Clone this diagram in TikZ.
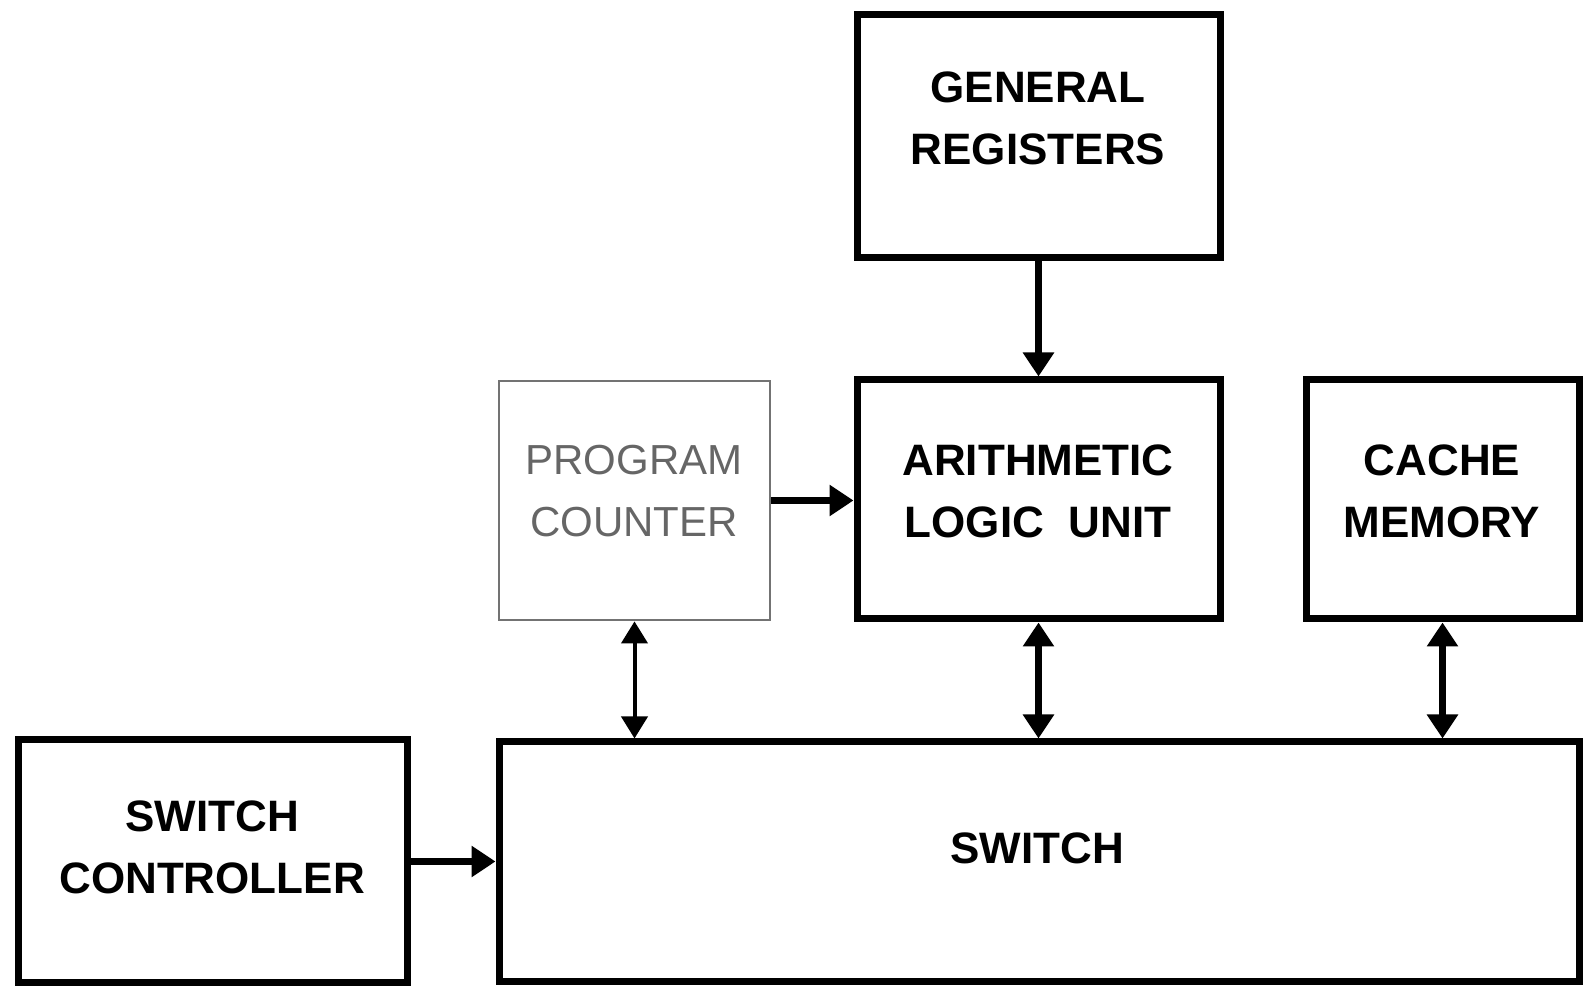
\documentclass[tikz,border=0pt]{standalone}
\usepackage{fontspec}
\setmainfont{Liberation Sans}
\usetikzlibrary{arrows.meta}
\begin{document}
\begin{tikzpicture}[x=0.5pt,y=-0.5pt,
  blk/.style={draw=black, line width=3.5pt, rectangle, inner sep=0pt},
  lightblk/.style={draw=black!55, line width=1.4pt, rectangle, inner sep=0pt},
  lbl/.style={inner sep=0pt, align=center, font=\fontsize{22}{31}\selectfont\bfseries},
  lightlbl/.style={inner sep=0pt, align=center, text=black!60, font=\fontsize{21}{31}\selectfont},
  conn/.style={line width=3.5pt, -{Triangle[width=15pt,length=12pt]}},
  biconn/.style={line width=3.5pt, {Triangle[width=15pt,length=12pt]}-{Triangle[width=15pt,length=12pt]}},
  thinbiconn/.style={line width=2pt, {Triangle[width=13pt,length=11pt]}-{Triangle[width=13pt,length=11pt]}}
]
\useasboundingbox (0,0) rectangle (1587,988);

\node[blk, minimum width=181.5pt, minimum height=121.5pt] (gr) at (1038.5,136.5) {};
\node[lbl] (grT) at (1038,118) {GENERAL\\REGISTERS};

\node[blk, minimum width=181.5pt, minimum height=119.5pt] (alu) at (1038.5,499.5) {};
\node[lbl] (aluT) at (1038,491) {ARITHMETIC\\LOGIC\ \ UNIT};

\node[blk, minimum width=136.5pt, minimum height=119.5pt] (cache) at (1442.5,499.5) {};
\node[lbl] (cacheT) at (1442,491) {CACHE\\MEMORY};

\node[lightblk, minimum width=135.5pt, minimum height=119.5pt] (pc) at (634.5,500.5) {};
\node[lightlbl] (pcT) at (634,491) {PROGRAM\\COUNTER};

\node[blk, minimum width=194.5pt, minimum height=121.5pt] (sc) at (212.5,861.5) {};
\node[lbl] (scT) at (212,847) {SWITCH\\CONTROLLER};

\node[blk, minimum width=540pt, minimum height=120pt] (sw) at (1039,862) {};
\node[lbl] (swT) at (1037,848) {SWITCH};

\draw[conn] (gr.south) -- (alu.north);
\draw[conn] (pc.east) -- (pc.east -| alu.west);
\draw[thinbiconn] (pc.south) -- (pc.south |- sw.north);
\draw[biconn] (alu.south) -- (alu.south |- sw.north);
\draw[biconn] (cache.south) -- (cache.south |- sw.north);
\draw[conn] (sc.east) -- (sc.east -| sw.west);
\end{tikzpicture}
\end{document}
